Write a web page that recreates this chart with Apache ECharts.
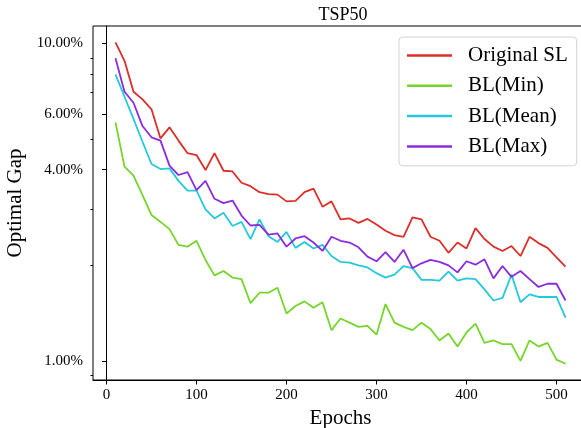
<!DOCTYPE html>
<html>
<head>
<meta charset="utf-8">
<script src="https://cdn.jsdelivr.net/npm/echarts@6/dist/echarts.min.js"></script>
<style>html,body{margin:0;padding:0;background:#fff}#c{width:581px;height:428px}</style>
</head>
<body>
<div id="c"></div>
<script>
const epochs = [10,20,30,40,50,60,70,80,90,100,110,120,130,140,150,160,170,180,190,200,210,220,230,240,250,260,270,280,290,300,310,320,330,340,350,360,370,380,390,400,410,420,430,440,450,460,470,480,490,500,510];
const originalSL = [10.07,8.81,7.04,6.66,6.20,5.02,5.44,4.94,4.51,4.45,3.99,4.51,3.97,3.95,3.64,3.55,3.40,3.35,3.34,3.18,3.19,3.40,3.49,3.06,3.18,2.79,2.81,2.72,2.80,2.69,2.57,2.49,2.46,2.83,2.79,2.46,2.39,2.19,2.36,2.26,2.62,2.42,2.29,2.22,2.30,2.14,2.46,2.35,2.27,2.12,1.98];
const blMin = [5.64,4.09,3.83,3.33,2.88,2.74,2.60,2.32,2.29,2.39,2.08,1.86,1.92,1.83,1.81,1.52,1.64,1.64,1.70,1.41,1.49,1.54,1.47,1.53,1.25,1.36,1.32,1.28,1.29,1.21,1.51,1.32,1.28,1.25,1.32,1.26,1.16,1.22,1.11,1.23,1.31,1.14,1.16,1.13,1.13,1.00,1.16,1.11,1.14,1.01,0.98];
const blMean = [7.99,6.79,5.78,4.90,4.17,4.02,4.04,3.69,3.44,3.44,3.00,2.81,2.93,2.66,2.74,2.42,2.79,2.47,2.37,2.55,2.27,2.37,2.26,2.32,2.14,2.05,2.04,2.00,1.97,1.89,1.83,1.87,1.99,1.96,1.80,1.80,1.79,1.91,1.79,1.82,1.81,1.68,1.55,1.58,1.87,1.53,1.62,1.59,1.59,1.59,1.37];
const blMax = [8.97,7.04,6.50,5.49,5.06,4.94,4.12,3.85,3.93,3.45,3.69,3.24,3.14,3.20,2.87,2.67,2.68,2.50,2.52,2.29,2.43,2.47,2.36,2.22,2.46,2.39,2.36,2.28,2.13,2.06,2.20,2.05,2.24,1.96,2.03,2.08,2.05,2.00,1.90,2.06,2.01,2.09,1.82,1.99,1.84,1.92,1.81,1.71,1.75,1.75,1.55];
const seriesNames = ['Original SL','BL(Min)','BL(Mean)','BL(Max)'];
const seriesColors = ['#dc2f2a','#76d52b','#25c9d9','#8b2be0'];
const xTicks = [0,100,200,300,400,500];
const yMajorTicks = [1,4,6,10];
const yMinorTicks = [0.9,2,3,5,7,8,9];

const FONT = '"Liberation Serif","DejaVu Serif",serif';
const allData = [originalSL, blMin, blMean, blMax];
const chart = echarts.init(document.getElementById('c'), null, {renderer: 'canvas'});
const yBase = {
  type: 'log', logBase: 10, min: 0.871, max: 11.34,
  splitLine: {show: false}, minorTick: {show: false}
};
chart.setOption({
  animation: false,
  backgroundColor: '#fff',
  title: {
    text: 'TSP50', left: 338, top: 1, textAlign: 'center',
    textStyle: {fontFamily: FONT, fontSize: 18, fontWeight: 'normal', color: '#000'}
  },
  grid: {left: 93, right: -7, top: 26, bottom: 48, outerBoundsMode: 'none', containLabel: false,
    show: true, borderColor: '#000', borderWidth: 1, backgroundColor: 'transparent'},
  legend: {
    orient: 'vertical', left: 399, top: 37,
    data: seriesNames,
    icon: 'rect', itemWidth: 45, itemHeight: 2.5, itemGap: 9.3,
    borderColor: '#d3d3d3', borderWidth: 1, borderRadius: 4,
    padding: [8, 9, 9, 8],
    textStyle: {fontFamily: FONT, fontSize: 21, color: '#000', lineHeight: 21, padding: [0, 0, 0, 11]}
  },
  xAxis: {
    type: 'value', min: -15, max: 535,
    name: 'Epochs', nameLocation: 'middle', nameGap: 25,
    nameTextStyle: {fontFamily: FONT, fontSize: 21, color: '#000'},
    axisLine: {show: true, lineStyle: {color: '#000', width: 1}},
    axisTick: {show: true, length: 4.5, customValues: xTicks, lineStyle: {color: '#000'}},
    axisLabel: {customValues: xTicks, margin: 8, fontFamily: FONT, fontSize: 15, color: '#000'},
    splitLine: {show: false}
  },
  yAxis: [
    Object.assign({}, yBase, {
      name: 'Optimal Gap', nameLocation: 'middle', nameGap: 59,
      nameTextStyle: {fontFamily: FONT, fontSize: 21, color: '#000'},
      axisLine: {show: true, lineStyle: {color: '#000', width: 1}},
      axisTick: {show: true, length: 4.5, customValues: yMajorTicks, lineStyle: {color: '#000'}},
      axisLabel: {customValues: yMajorTicks, margin: 10, fontFamily: FONT, fontSize: 15, color: '#000',
        formatter: v => Number(v).toFixed(2) + '%'}
    }),
    Object.assign({}, yBase, {
      position: 'left', offset: 0,
      axisLine: {show: false},
      axisTick: {show: true, length: 2.5, customValues: yMinorTicks, lineStyle: {color: '#000'}},
      axisLabel: {show: false}
    })
  ],
  series: seriesNames.map((n, k) => ({
    name: n, type: 'line', yAxisIndex: 0,
    data: epochs.map((e, i) => [e, allData[k][i]]),
    symbol: 'none', lineStyle: {width: 1.8, color: seriesColors[k]}, itemStyle: {color: seriesColors[k]}
  }))
});
</script>
</body>
</html>
